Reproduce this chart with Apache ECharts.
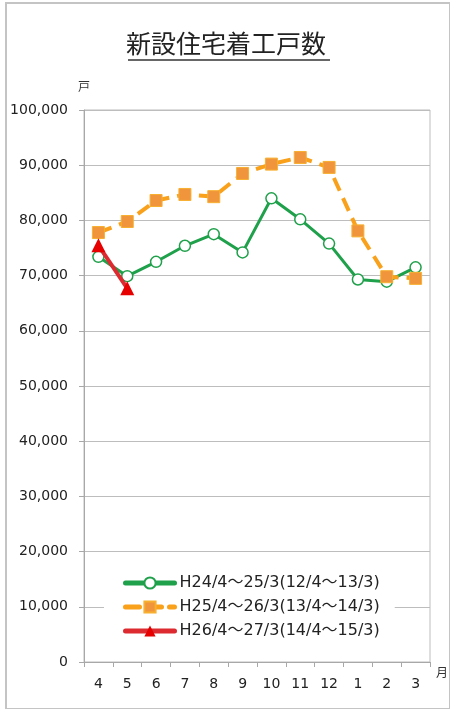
<!DOCTYPE html>
<html>
<head>
<meta charset="utf-8">
<script src="https://cdn.jsdelivr.net/npm/echarts@6/dist/echarts.min.js"></script>
<style>
  html, body { margin: 0; padding: 0; background: #fff; }
  #frame { position: absolute; left: 5px; top: 2px; width: 442px; height: 704px; border: 1px solid #c4c4c4; border-width: 2px 1px 1px 2px; }
  #mainChart { position: absolute; left: 0; top: 0; width: 452px; height: 710px; }
</style>
</head>
<body>
<div id="frame"></div>
<div id="mainChart"></div>
<script>
// 月（4月〜翌3月）
var months = ['4', '5', '6', '7', '8', '9', '10', '11', '12', '1', '2', '3'];
var seriesNames = ['H24/4～25/3(12/4～13/3)', 'H25/4～26/3(13/4～14/3)', 'H26/4～27/3(14/4～15/3)'];
// 戸数
var h24 = [73400, 69900, 72500, 75400, 77500, 74200, 84000, 80200, 75800, 69300, 68900, 71500];
var h25 = [77800, 79800, 83600, 84700, 84300, 88500, 90200, 91400, 89600, 78100, 69800, 69500];
var h26 = [75500, 67700];

var font = '"Noto Sans CJK JP", sans-serif';
var latin = '"DejaVu Sans", "Noto Sans CJK JP", sans-serif';

var option = {
  animation: false,
  backgroundColor: 'transparent',
  title: {
    text: '新設住宅着工戸数',
    left: 'center',
    top: 26,
    textStyle: { fontFamily: font, fontSize: 25, fontWeight: 'normal', color: '#222' }
  },
  graphic: [{
    type: 'line',
    shape: { x1: 128, y1: 60, x2: 330, y2: 60 },
    style: { stroke: '#333', lineWidth: 1.5 }
  }],
  legend: {
    orient: 'vertical',
    left: 104,
    top: 571,
    itemWidth: 49,
    itemHeight: 14,
    itemGap: 8,
    padding: [4, 15, 4, 19],
    backgroundColor: '#fff',
    lineStyle: { width: 5, cap: 'round' },
    textStyle: { fontFamily: latin, fontSize: 16, color: '#222' },
    data: seriesNames
  },
  grid: {
    left: 84,
    right: 22,
    top: 110,
    bottom: 48,
    show: true,
    borderColor: '#bdbdbd',
    borderWidth: 1
  },
  xAxis: {
    type: 'category',
    data: months,
    boundaryGap: true,
    name: '月',
    nameLocation: 'end',
    nameGap: 6,
    nameTextStyle: { fontFamily: font, fontSize: 12, color: '#333', verticalAlign: 'top', padding: [4, 0, 0, 0] },
    axisLine: { lineStyle: { color: '#a8a8a8', width: 1 } },
    axisTick: { show: true, interval: 0, length: 5, lineStyle: { color: '#a8a8a8' } },
    axisLabel: { interval: 0, margin: 15, fontFamily: latin, fontSize: 14, color: '#222' }
  },
  yAxis: {
    type: 'value',
    min: 0,
    max: 100000,
    interval: 10000,
    name: '戸',
    nameLocation: 'end',
    nameGap: 18,
    nameTextStyle: { fontFamily: font, fontSize: 12, color: '#333' },
    axisLine: { show: true, lineStyle: { color: '#a8a8a8', width: 1 } },
    axisTick: { show: true, length: 5, lineStyle: { color: '#a8a8a8' } },
    splitLine: { show: true, lineStyle: { color: '#bdbdbd', width: 1 } },
    axisLabel: {
      margin: 16,
      fontFamily: latin,
      fontSize: 14,
      color: '#222',
      formatter: function (v) { return v.toLocaleString('en-US'); }
    }
  },
  series: [
    {
      name: seriesNames[0],
      type: 'line',
      data: h24,
      symbol: 'circle',
      symbolSize: 11,
      showAllSymbol: true,
      lineStyle: { color: '#1fa04a', width: 3 },
      itemStyle: { color: '#ffffff', borderColor: '#1fa04a', borderWidth: 1.5 },
      z: 2
    },
    {
      name: seriesNames[1],
      type: 'line',
      data: h25,
      symbol: 'rect',
      symbolSize: 12,
      showAllSymbol: true,
      lineStyle: { color: '#f9a11b', width: 4, type: [14, 8] },
      itemStyle: { color: '#f0953c', borderColor: '#f8b030', borderWidth: 1 },
      z: 3
    },
    {
      name: seriesNames[2],
      type: 'line',
      data: h26,
      symbol: 'triangle',
      symbolSize: 14,
      showAllSymbol: true,
      lineStyle: { color: '#dc2a30', width: 4 },
      itemStyle: { color: '#e60000' },
      z: 4
    }
  ]
};

var myChart = echarts.init(document.getElementById('mainChart'));
myChart.setOption(option);
</script>
</body>
</html>
